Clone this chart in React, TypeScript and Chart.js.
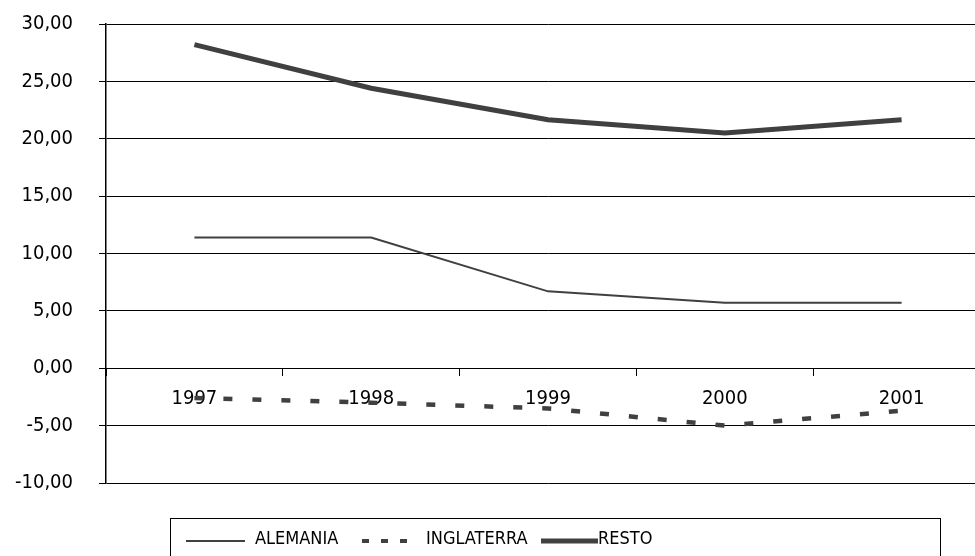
import React, { useEffect, useRef } from "react";
import { Chart, registerables } from "chart.js";

Chart.register(...registerables);

const years = ["1997", "1998", "1999", "2000", "2001"];
const alemania = [11.4, 11.4, 6.7, 5.7, 5.7];
const inglaterra = [-2.6, -3.0, -3.5, -5.0, -3.7];
const resto = [28.2, 24.4, 21.65, 20.5, 21.65];
const yTicks = [-10, -5, 0, 5, 10, 15, 20, 25, 30];

const FONT = "'DejaVu Sans Condensed', 'DejaVu Sans', sans-serif";
const LINE = "#404040";

const legendBox = {
  id: "legendBox",
  afterDraw(chart: any) {
    const ctx = chart.ctx;
    ctx.save();
    ctx.strokeStyle = "#000";
    ctx.lineWidth = 1;
    ctx.strokeRect(170.5, 518.5, 770, 60);
    const items = [
      { lx: 186, lw: 59, tx: 255, width: 2, dash: [] as number[] },
      { lx: 362, lw: 57, tx: 426, width: 4, dash: [7, 12] },
      { lx: 541, lw: 57, tx: 598, width: 5, dash: [] as number[] },
    ];
    chart.data.datasets.forEach((ds: any, i: number) => {
      const it = items[i];
      ctx.beginPath();
      ctx.setLineDash(it.dash);
      ctx.strokeStyle = LINE;
      ctx.lineWidth = it.width;
      ctx.moveTo(it.lx, 541);
      ctx.lineTo(it.lx + it.lw, 541);
      ctx.stroke();
      ctx.setLineDash([]);
      ctx.fillStyle = "#000";
      ctx.font = `18px ${FONT}`;
      ctx.textBaseline = "alphabetic";
      ctx.textAlign = "left";
      ctx.fillText(ds.label, it.tx, 544);
    });
    ctx.restore();
  },
};

export default function App() {
  const ref = useRef<HTMLCanvasElement>(null);
  useEffect(() => {
    if (!ref.current) return;
    const chart = new Chart(ref.current, {
      type: "line",
      data: {
        labels: years,
        datasets: [
          {
            label: "ALEMANIA",
            data: alemania,
            borderColor: LINE,
            borderWidth: 2,
            pointRadius: 0,
            tension: 0,
          },
          {
            label: "INGLATERRA",
            data: inglaterra,
            borderColor: LINE,
            borderWidth: 4.5,
            borderDash: [9, 20],
            pointRadius: 0,
            tension: 0,
          },
          {
            label: "RESTO",
            data: resto,
            borderColor: LINE,
            borderWidth: 5,
            pointRadius: 0,
            tension: 0,
          },
        ],
      },
      options: {
        animation: false,
        responsive: false,
        devicePixelRatio: 1,
        layout: { padding: { left: 0, right: 10, top: 24, bottom: 73 } },
        plugins: { legend: { display: false }, tooltip: { enabled: false } },
        scales: {
          x: {
            position: { y: 0 } as any,
            offset: true,
            grid: {
              offset: true,
              drawOnChartArea: false,
              drawTicks: true,
              tickLength: 7,
              color: "#000",
            },
            border: { display: true, color: "#000", width: 1 },
            ticks: {
              color: "#000",
              font: { family: FONT, size: 20 },
              padding: 12,
              maxRotation: 0,
            },
          },
          y: {
            min: -10,
            max: 30,
            afterBuildTicks: (s: any) => {
              s.ticks = yTicks.map((v) => ({ value: v }));
            },
            afterFit: (s: any) => {
              s.width = 106;
              s.paddingTop = 0;
              s.paddingBottom = 0;
            },
            grid: { color: "#000", lineWidth: 1, tickLength: 7 },
            border: { display: true, color: "#000", width: 1.5 },
            ticks: {
              color: "#000",
              font: { family: FONT, size: 20 },
              padding: 26,
              callback: (v: any) => Number(v).toFixed(2).replace(".", ","),
            },
          },
        },
      },
      plugins: [legendBox],
    });
    return () => chart.destroy();
  }, []);
  return (
    <div
      style={{
        position: "fixed",
        left: 0,
        top: 0,
        width: 975,
        height: 556,
        overflow: "hidden",
        background: "#fff",
      }}
    >
      <canvas ref={ref} width={1000} height={556} style={{ width: 1000, height: 556, display: "block" }} />
    </div>
  );
}
